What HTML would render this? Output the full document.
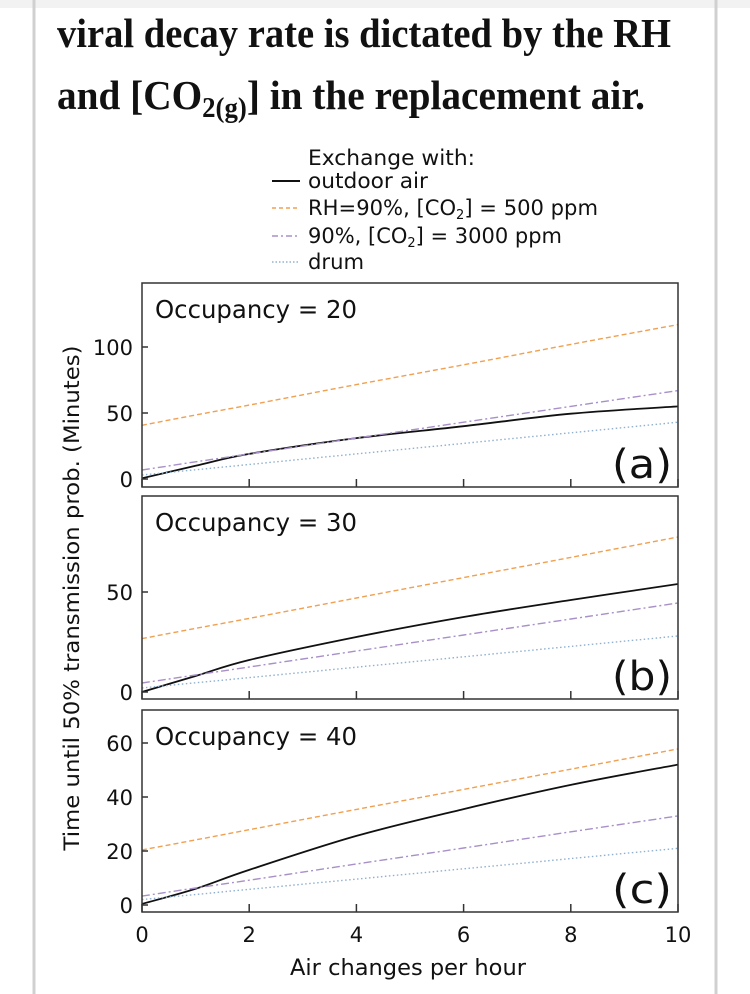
<!DOCTYPE html>
<html><head><meta charset="utf-8"><style>
body{margin:0;background:#fff;width:750px;height:994px;overflow:hidden}
svg{display:block}
</style></head><body>
<svg id="fig" width="750" height="994" viewBox="0 0 750 994" xmlns="http://www.w3.org/2000/svg">
<rect x="0" y="0" width="750" height="8" fill="#f2f2f2"/>
<line x1="34" y1="0" x2="34" y2="994" stroke="#d0d0d0" stroke-width="3"/>
<line x1="716" y1="0" x2="716" y2="994" stroke="#d0d0d0" stroke-width="3"/>
<g font-family="'Liberation Serif', serif" font-weight="bold" font-size="41" fill="#111">
<text x="57" y="47" textLength="614" lengthAdjust="spacingAndGlyphs">viral decay rate is dictated by the RH</text>
<text x="57" y="109" textLength="588" lengthAdjust="spacingAndGlyphs">and [CO<tspan font-size="28" dy="8">2(g)</tspan><tspan dy="-8">] in the replacement air.</tspan></text>
</g>
<g font-family="'DejaVu Sans', sans-serif" font-size="21" fill="#111">
<text x="308" y="165" textLength="167" lengthAdjust="spacingAndGlyphs">Exchange with:</text>
<line x1="272" y1="181" x2="300" y2="181" stroke="#111" stroke-width="2"/>
<text x="308" y="188" textLength="120" lengthAdjust="spacingAndGlyphs">outdoor air</text>
<line x1="272" y1="208" x2="300" y2="208" stroke="#f0a050" stroke-width="1.5" stroke-dasharray="4 3"/>
<text x="308" y="215" textLength="290" lengthAdjust="spacingAndGlyphs">RH=90%, [CO<tspan font-size="13" dy="4">2</tspan><tspan dy="-4">] = 500 ppm</tspan></text>
<line x1="272" y1="236" x2="300" y2="236" stroke="#a890c8" stroke-width="1.5" stroke-dasharray="6 3 2 3"/>
<text x="308" y="243" textLength="254" lengthAdjust="spacingAndGlyphs">90%, [CO<tspan font-size="13" dy="4">2</tspan><tspan dy="-4">] = 3000 ppm</tspan></text>
<line x1="272" y1="262" x2="300" y2="262" stroke="#90b0d0" stroke-width="1.5" stroke-dasharray="1.5 2"/>
<text x="308" y="269" textLength="56" lengthAdjust="spacingAndGlyphs">drum</text>
</g>
<text transform="translate(79,598) rotate(-90)" text-anchor="middle" font-family="'DejaVu Sans', sans-serif" font-size="21" fill="#111" textLength="505" lengthAdjust="spacingAndGlyphs">Time until 50% transmission prob. (Minutes)</text>
<g id="plots"></g>
</svg>
<script>
// shared x categories (air changes per hour)
const xs = [0, 1, 2, 4, 6, 8, 10];
const xTicks = [0, 2, 4, 6, 8, 10];
// panel (a) occupancy 20
const aOutdoor = [0.5, 10, 19, 31, 40, 49.5, 55];
const aRH500 = [40.7, 48.5, 56, 71.5, 86.5, 102, 117];
const a3000 = [6.8, 13, 19, 31, 43, 55, 67];
const aDrum = [3, 7, 11, 19, 27, 35, 43];
const aYTicks = [0, 50, 100];
// panel (b) occupancy 30
const bOutdoor = [0, 8, 16, 27.5, 37.5, 46, 54];
const bRH500 = [26.7, 31.8, 36.8, 47, 57.2, 67.3, 77.5];
const b3000 = [4.5, 8.5, 12.5, 20.5, 28.5, 36.5, 44.5];
const bDrum = [2, 4.6, 7.2, 12.4, 17.6, 22.8, 28];
const bYTicks = [0, 50];
// panel (c) occupancy 40
const cOutdoor = [0.4, 6, 13, 25.6, 35.5, 44.5, 52];
const cRH500 = [20.4, 24.1, 27.9, 35.4, 42.8, 50.3, 57.8];
const c3000 = [3.3, 6.3, 9.2, 15.2, 21.1, 27.1, 33];
const cDrum = [2, 3.9, 5.8, 9.6, 13.4, 17.2, 21];
const cYTicks = [0, 20, 40, 60];
const panelTitles = ["Occupancy = 20", "Occupancy = 30", "Occupancy = 40"];
const panelLabels = ["(a)", "(b)", "(c)"];

const NS = "http://www.w3.org/2000/svg";
const g = document.getElementById("plots");
const X0 = 142, X1 = 678;
function xScale(v){ return X0 + (v - 0) / 10 * (X1 - X0); }
function mk(tag, attrs, parent){
  const e = document.createElementNS(NS, tag);
  for (const k in attrs) e.setAttribute(k, attrs[k]);
  (parent || g).appendChild(e);
  return e;
}
function smoothPath(P){
  let d = "M" + P[0][0].toFixed(1) + "," + P[0][1].toFixed(1);
  for (let i = 0; i < P.length - 1; i++){
    const p0 = P[i-1] || P[i], p1 = P[i], p2 = P[i+1], p3 = P[i+2] || P[i+1];
    const c1 = [p1[0] + (p2[0]-p0[0])/6, p1[1] + (p2[1]-p0[1])/6];
    const c2 = [p2[0] - (p3[0]-p1[0])/6, p2[1] - (p3[1]-p1[1])/6];
    d += " C" + c1.map(v=>v.toFixed(1)).join(",") + " " + c2.map(v=>v.toFixed(1)).join(",") + " " + p2[0].toFixed(1) + "," + p2[1].toFixed(1);
  }
  return d;
}
const styles = [
  {stroke:"#111", w:1.8, dash:"", name:"outdoor"},
  {stroke:"#f0a050", w:1.4, dash:"5 3", name:"rh90-500"},
  {stroke:"#a890c8", w:1.4, dash:"8 3 2 3", name:"rh90-3000"},
  {stroke:"#90b0d0", w:1.4, dash:"1.5 2.5", name:"drum"}
];
const panels = [
  {top:283, bottom:487, y0:479, ppu:1.32, series:[aOutdoor,aRH500,a3000,aDrum], yt:aYTicks},
  {top:496, bottom:699, y0:692, ppu:2.0, series:[bOutdoor,bRH500,b3000,bDrum], yt:bYTicks},
  {top:710, bottom:912, y0:905, ppu:2.7, series:[cOutdoor,cRH500,c3000,cDrum], yt:cYTicks}
];
panels.forEach((p, i) => {
  const pg = mk("g", {});
  
  
  const yScale = v => p.y0 - v * p.ppu;
  const cid = "clip" + i;
  const cp = mk("clipPath", {id: cid}, pg);
  mk("rect", {x:X0, y:p.top, width:X1-X0, height:p.bottom-p.top}, cp);
  p.series.forEach((s, k) => {
    const st = styles[k];
    const pts = xs.map((x, j) => [xScale(x), yScale(s[j])]);
    const path = mk("path", {d: smoothPath(pts), fill:"none", stroke:st.stroke, "stroke-width":st.w, "stroke-dasharray":st.dash, "clip-path":"url(#"+cid+")"}, pg);
    
    
  });
  const fr = mk("rect", {x:X0, y:p.top, width:X1-X0, height:p.bottom-p.top, fill:"none", stroke:"#333", "stroke-width":1.5}, pg);
  
  
  xTicks.forEach(t => {
    const tk = mk("line", {x1:xScale(t), x2:xScale(t), y1:p.bottom, y2:p.bottom-8, stroke:"#333", "stroke-width":1.5}, pg);
    
    
  });
  p.yt.forEach(t => {
    const y = yScale(t);
    const tk = mk("line", {x1:X0, x2:X0+6, y1:y, y2:y, stroke:"#333", "stroke-width":1.5}, pg);
    
    
    const tl = mk("text", {x:X0-9, y:y+8, "text-anchor":"end", "font-family":"'DejaVu Sans', sans-serif", "font-size":"21", fill:"#111"}, pg);
    tl.textContent = t;
    
    
  });
  const tt = mk("text", {x:155, y:p.top+35, "font-family":"'DejaVu Sans', sans-serif", "font-size":"25", fill:"#111", textLength:"202", lengthAdjust:"spacingAndGlyphs"}, pg);
  tt.textContent = panelTitles[i];
  
  
  const pl = mk("text", {x:672, y:p.bottom-9, "text-anchor":"end", "font-family":"'DejaVu Sans', sans-serif", "font-size":"40", fill:"#111", textLength:"60", lengthAdjust:"spacingAndGlyphs"}, pg);
  pl.textContent = panelLabels[i];
  
  
});
xTicks.forEach(t => {
  const tl = mk("text", {x:xScale(t), y:942, "text-anchor":"middle", "font-family":"'DejaVu Sans', sans-serif", "font-size":"21", fill:"#111"});
  tl.textContent = t;
  
  
});
const xt = mk("text", {x:408, y:975, "text-anchor":"middle", "font-family":"'DejaVu Sans', sans-serif", "font-size":"22", fill:"#111", textLength:"236", lengthAdjust:"spacingAndGlyphs"});
xt.textContent = "Air changes per hour";


</script>
</body></html>
